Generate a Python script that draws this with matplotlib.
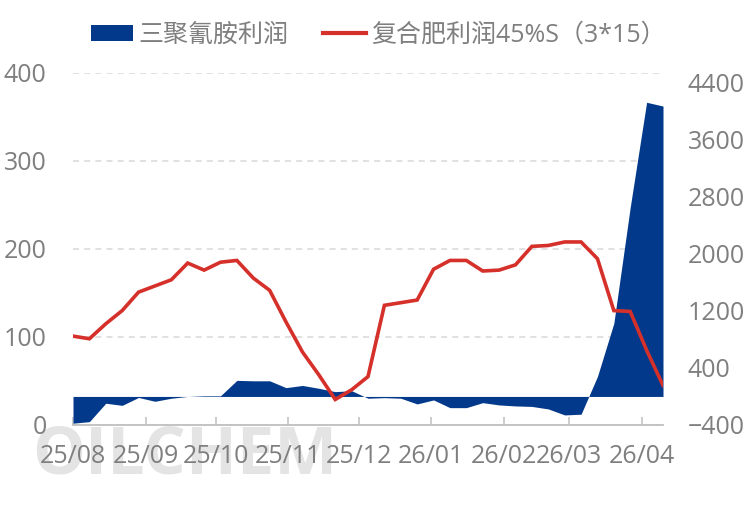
import matplotlib.pyplot as plt
import matplotlib.dates as mdates
from matplotlib.patches import Patch
from matplotlib.lines import Line2D
import pandas as pd

plt.rcParams['font.family'] = ['Open Sans', 'Noto Sans CJK SC', 'DejaVu Sans']

# weekly series, 2025/08 - 2026/04
dates = pd.date_range('2025-08-01', periods=37, freq='7D')

# 三聚氰胺利润 (right axis, area)
melamine = [-375, -353, -95, -125, -14, -68, -25, 0, 9, 9,
            225, 219, 219, 123, 154, 114, 67, 80, -25, -17,
            -25, -105, -49, -157, -157, -87, -119, -133, -140, -175,
            -259, -249, 280, 1025, 2650, 4120, 4067]

# 复合肥利润45%S（3*15） (left axis, line)
fertilizer = [101, 98, 115, 130, 151, 158, 165, 184, 176, 185,
              187, 167, 153, 117, 83, 57, 29, 40, 55, 136,
              139, 142, 177, 187, 187, 175, 176, 182, 203, 204,
              208, 208, 189, 130, 129, 85, 45]

name_area = '三聚氰胺利润'
name_line = '复合肥利润45%S（3*15）'
blue = '#02398a'
red = '#d5302a'
grey = '#7f7f7f'

fig = plt.figure(figsize=(7.51, 5.21), dpi=100)
rect = [73 / 751, 1 - 425 / 521, 590 / 751, 352 / 521]

# watermark, behind everything
fig.text(32 / 751, 1 - 473 / 521, 'OILCHEM', fontsize=48, fontweight='bold',
         color='#e4e4e4', ha='left', va='baseline', zorder=-5)

# left axis: gridlines + ticks
ax1 = fig.add_axes(rect)
ax1.set_ylim(0, 400)
ax1.set_yticks([0, 100, 200, 300, 400])
ax1.yaxis.grid(True, color='#d9d9d9', linewidth=1.1, dashes=(4, 3.3))
ax1.set_axisbelow(True)
ax1.patch.set_visible(False)

# right axis: area
ax2 = ax1.twinx()
ax2.fill_between(dates, 0, melamine, color=blue, linewidth=0)
ax2.set_ylim(-400, 4530)
ax2.set_yticks(range(-400, 4401, 800))
ax2.patch.set_visible(False)

# line on top, same scale as left axis
ax3 = fig.add_axes(rect, sharex=ax1, sharey=ax1)
ax3.plot(dates, fertilizer, color=red, linewidth=2.6, solid_joinstyle='miter')
ax3.axis('off')

ax1.set_xlim(dates[0], dates[-1])
ax1.xaxis.set_major_locator(mdates.MonthLocator())
ax1.xaxis.set_major_formatter(mdates.DateFormatter('%y/%m'))

for a in (ax1, ax2):
    for s in ('top', 'left', 'right', 'bottom'):
        a.spines[s].set_visible(False)
ax1.spines['bottom'].set_visible(True)
ax1.spines['bottom'].set_color('#bfbfbf')
ax1.spines['bottom'].set_linewidth(1.3)

ax1.tick_params(axis='x', direction='in', length=6, width=1.1, color='#bfbfbf',
                labelsize=18, labelcolor=grey, pad=14)
ax1.tick_params(axis='y', length=0, labelsize=18, labelcolor=grey, pad=19)
ax2.tick_params(axis='y', length=0, labelsize=18, labelcolor=grey, pad=18)

handles = [Patch(facecolor=blue, edgecolor='none'),
           Line2D([0], [0], color=red, linewidth=3)]
fig.legend(handles, [name_area, name_line], loc='center',
           bbox_to_anchor=(378 / 751, 1 - 35 / 521), ncol=2, frameon=False,
           fontsize=18, labelcolor=grey, handlelength=1.7, handleheight=0.6,
           handletextpad=0.2, columnspacing=1.4)

fig.savefig('out.png', dpi=100)
